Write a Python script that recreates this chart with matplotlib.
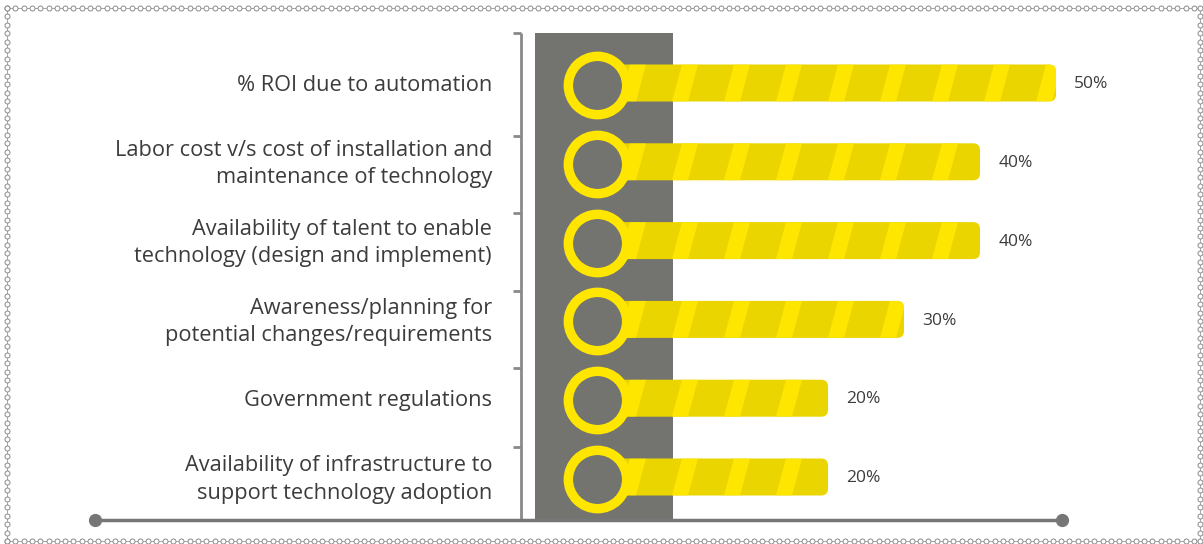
import matplotlib
matplotlib.use("Agg")
import matplotlib.pyplot as plt
import numpy as np
from matplotlib.patches import FancyBboxPatch, Rectangle, Polygon

# data
labels = [
    "% ROI due to automation",
    "Labor cost v/s cost of installation and\nmaintenance of technology",
    "Availability of talent to enable\ntechnology (design and implement)",
    "Awareness/planning for\npotential changes/requirements",
    "Government regulations",
    "Availability of infrastructure to\nsupport technology adoption",
]
values = [50, 40, 40, 30, 20, 20]
value_labels = ["50%", "40%", "40%", "30%", "20%", "20%"]

YELLOW = "#FFE600"
DARK_YELLOW = "#EAD500"
GRAY = "#737370"
TEXT = "#3c3c3c"
AXIS = "#8a8a8a"

plt.rcParams['font.family'] = ['Open Sans', 'DejaVu Sans']

fig = plt.figure(figsize=(12.03, 5.44), dpi=100)
ax = fig.add_axes([0, 0, 1, 1])
ax.axis("off")

# scale: 7.6 px per percent, 78.8 px per category
px_x, px_y = 7.6, 78.8
ax.set_xlim(-676 / px_x, (1203 - 676) / px_x)
ax.set_ylim((544 - 83) / px_y, -83 / px_y)
aspect = px_x / px_y

n = len(values)
y = np.arange(n)
circle_x = -10.4
bar_h = 37 / px_y

# gray column behind the circles
top, bottom = -0.63, n - 1 + 0.545
ax.add_patch(Rectangle((-18.55, top), 18.15, bottom - top, color=GRAY, zorder=1, lw=0))

# vertical axis with ticks
ax_x = -20.4
ax.plot([ax_x, ax_x], [top, bottom], color=AXIS, lw=2, zorder=2, solid_capstyle="butt")
for t in [top, 0.67, 1.65, 2.64, 3.62, 4.62, bottom]:
    ax.plot([ax_x - 1.1, ax_x], [t, t], color=AXIS, lw=2, zorder=2, solid_capstyle="butt")

# baseline
ax.plot([-76.4, 50.8], [bottom, bottom], color="#767676", lw=2.5, zorder=3,
        marker="o", markersize=8.5, markevery=[0, 1])

period, stripe_w, slant = 52 / px_x, 16 / px_x, 10 / px_x
for i, v in enumerate(values):
    bar = FancyBboxPatch((circle_x, i - bar_h / 2), v - circle_x, bar_h,
                         boxstyle="round,pad=0,rounding_size=0.9",
                         mutation_aspect=aspect, fc=DARK_YELLOW, ec="none", zorder=3)
    ax.add_patch(bar)
    for s in np.arange(0.79 - 3 * period, v + period, period):
        poly = Polygon([(s, i - bar_h / 2), (s + stripe_w, i - bar_h / 2),
                        (s + stripe_w - slant, i + bar_h / 2), (s - slant, i + bar_h / 2)],
                       closed=True, fc=YELLOW, ec="none", zorder=4)
        ax.add_patch(poly)
        poly.set_clip_path(bar)
    ax.text(v + 2.4, i + 0.015, value_labels[i], fontsize=12.5, color=TEXT, va="center", ha="left")
    ax.text(-24.2, i + 0.03, labels[i], fontsize=15.7, color=TEXT, va="center", ha="right",
            linespacing=1.4)

ax.plot([circle_x] * n, y + 0.025, "o", markersize=42, markerfacecolor=GRAY,
        markeredgecolor=YELLOW, markeredgewidth=6.8, zorder=6, ls="none")

# dotted chain border
top_x = np.arange(7, 1200, 8.3)
side_y = np.linspace(8, 541, 64)
bx = np.concatenate([top_x, np.full(len(side_y), 1200), top_x[::-1], np.full(len(side_y), 7)])
by = np.concatenate([np.full(len(top_x), 8), side_y, np.full(len(top_x), 541), side_y[::-1]])
ax.plot((bx - 676) / px_x, (by - 83) / px_y, color="#9a9a9a", lw=0.6, marker="o",
        markersize=3.6, markerfacecolor="white", markeredgecolor="#8a8a8a",
        markeredgewidth=0.7, zorder=0, clip_on=False)

fig.savefig("out.png", dpi=100)
